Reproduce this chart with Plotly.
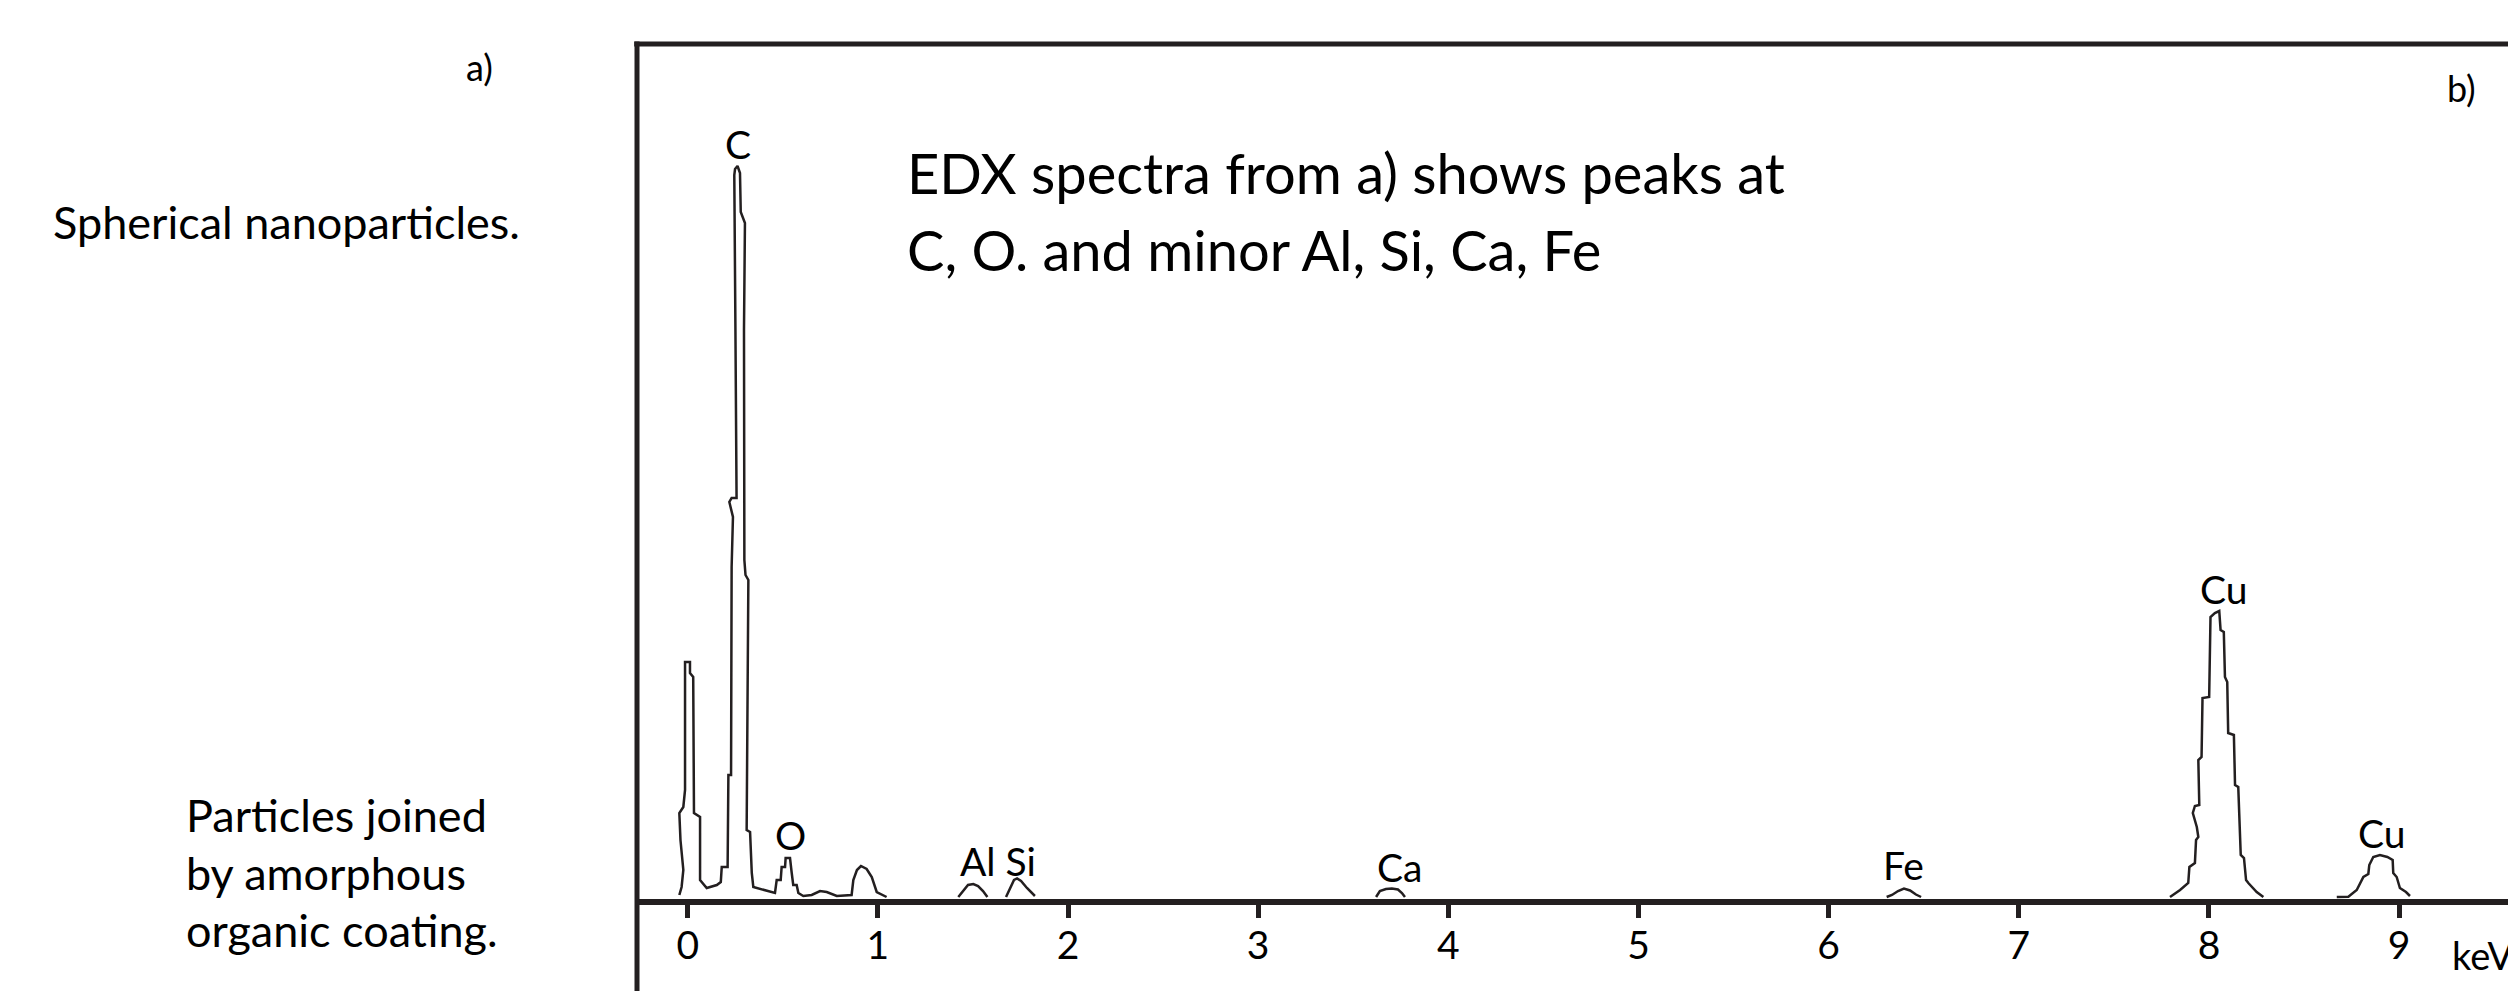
import plotly.graph_objects as go

# ---------------- data (energy in keV, intensity in arbitrary units) ----------------
low_keV = [-0.044, -0.032, -0.023, -0.038, -0.044, -0.023, -0.014, -0.014, 0.012, 0.012,
           0.029, 0.033, 0.065, 0.065, 0.100, 0.153, 0.174, 0.179, 0.210, 0.214,
           0.228, 0.231, 0.238, 0.219, 0.231, 0.257, 0.251, 0.245, 0.249, 0.262,
           0.275, 0.279, 0.301, 0.296, 0.298, 0.304, 0.319, 0.313, 0.310, 0.328,
           0.337, 0.345, 0.380, 0.459, 0.468, 0.489, 0.494, 0.512, 0.515, 0.538,
           0.547, 0.555, 0.573, 0.582, 0.608, 0.652, 0.696, 0.731, 0.784, 0.862,
           0.871, 0.890, 0.911, 0.941, 0.968, 0.994, 1.046]
low_int = [2, 10, 27, 57, 84, 90, 107, 235, 235, 224,
           220, 84, 80, 17, 9, 12, 15, 30, 30, 122,
           122, 330, 380, 395, 399, 399, 567, 722, 728, 731,
           724, 685, 674, 567, 337, 322, 317, 197, 67, 65,
           24, 10, 8, 4, 17, 17, 30, 30, 39, 39,
           24, 12, 12, 4, 1, 2, 6, 5, 1, 2,
           17, 27, 31, 28, 20, 5, 0]

al_keV = [1.423, 1.448, 1.474, 1.502, 1.527, 1.553, 1.576]
al_int = [0, 6, 12, 13, 11, 6, 0]

si_keV = [1.674, 1.695, 1.716, 1.732, 1.753, 1.784, 1.826]
si_int = [0, 9, 17, 18.5, 16, 9, 1]

ca_keV = [3.620, 3.640, 3.672, 3.703, 3.735, 3.756, 3.772]
ca_int = [0, 6, 8, 8.5, 7.5, 4, 0]

fe_keV = [6.305, 6.333, 6.365, 6.396, 6.428, 6.459, 6.486]
fe_int = [0, 2, 6, 8.5, 6.5, 2.5, 0]

cuka_keV = [7.795, 7.848, 7.891, 7.897, 7.926, 7.932, 7.944, 7.936, 7.915, 7.926,
            7.949, 7.944, 7.961, 7.966, 8.001, 8.008, 8.031, 8.040, 8.054, 8.061,
            8.078, 8.084, 8.096, 8.101, 8.131, 8.137, 8.154, 8.167, 8.184, 8.195,
            8.207, 8.251, 8.286]
cuka_int = [0, 7, 14, 30, 34, 57, 60, 70, 84, 91,
            92, 137, 140, 199, 200, 280, 284, 285, 286, 267,
            265, 220, 215, 164, 162, 112, 110, 42, 39, 17,
            14, 5, 0]

cukb_keV = [8.672, 8.733, 8.777, 8.812, 8.838, 8.843, 8.864, 8.899, 8.938, 8.966,
            8.969, 8.987, 9.004, 9.036, 9.057]
cukb_int = [0, 0.3, 7, 20, 23, 32, 40, 42, 40, 37,
            24, 20, 9, 5, 1]

tick_values = [0, 1, 2, 3, 4, 5, 6, 7, 8, 9]
tick_labels = ["0", "1", "2", "3", "4", "5", "6", "7", "8", "9"]

peak_names = ["C", "O", "Al Si", "Ca", "Fe", "Cu", "Cu"]
peak_label_keV = [0.267, 0.538, 1.633, 3.741, 6.391, 8.074, 8.907]
peak_label_int = [753, 62, 36, 30, 32, 308, 64]

# ---------------- build the figure ----------------
segments = [(low_keV, low_int), (al_keV, al_int), (si_keV, si_int), (ca_keV, ca_int),
            (fe_keV, fe_int), (cuka_keV, cuka_int), (cukb_keV, cukb_int)]
xs, ys = [], []
for sx, sy in segments:
    xs += list(sx) + [None]
    ys += list(sy) + [None]

INK = "#231f20"
FONT = "Lato"

fig = go.Figure()
fig.add_trace(go.Scatter(x=xs, y=ys, mode="lines", connectgaps=False,
                         line=dict(color=INK, width=2.5), hoverinfo="skip"))

W, H = 2508, 991
ML, MR, MT, MB = 637, 0, 44, 89

annotations = []
for name, kx, ky in zip(peak_names, peak_label_keV, peak_label_int):
    annotations.append(dict(x=kx, y=ky, xref="x", yref="y", text=name, showarrow=False,
                            xanchor="center", yanchor="middle",
                            font=dict(family=FONT, size=39, color="#000")))

def px2paper_x(px):
    return (px - ML) / (W - ML - MR)

def px2paper_y(py):
    return (H - MB - py) / (H - MT - MB)

texts = [
    ("EDX spectra from a) shows peaks at", 905, 172.5, "left", 56),
    ("C, O. and minor Al, Si, Ca, Fe", 905, 250, "left", 56),
    ("a)", 479, 67, "center", 36),
    ("b)", 2461, 88, "center", 36),
    ("Spherical nanoparticles.", 286.5, 222, "center", 45),
    ("Particles joined", 184, 815, "left", 45),
    ("by amorphous", 184, 873, "left", 45),
    ("organic coating.", 184, 930, "left", 45),
    ("keV", 2450, 955, "left", 38),
]
for t, px, py, anc, sz in texts:
    annotations.append(dict(x=px2paper_x(px), y=px2paper_y(py), xref="paper", yref="paper",
                            text=t, showarrow=False, xanchor=anc, yanchor="middle",
                            align="left",
                            font=dict(family=FONT, size=sz, color="#000")))

shapes = [
    # top frame line
    dict(type="line", xref="paper", yref="paper", x0=-0.0015, x1=1.0, y0=1, y1=1,
         line=dict(color=INK, width=5)),
    # left frame line (runs off the bottom)
    dict(type="line", xref="paper", yref="paper", x0=0, x1=0, y0=-0.2, y1=1.003,
         line=dict(color=INK, width=5)),
    # energy axis line
    dict(type="line", xref="paper", yref="paper", x0=0, x1=1.0, y0=0, y1=0,
         line=dict(color=INK, width=6)),
]

fig.update_layout(
    width=W, height=H,
    margin=dict(l=ML, r=MR, t=MT, b=MB, pad=0),
    paper_bgcolor="white", plot_bgcolor="white",
    showlegend=False,
    annotations=annotations,
    shapes=shapes,
    xaxis=dict(range=[(637 - 687.7) / 190.16, (2508 - 687.7) / 190.16],
               tickmode="array", tickvals=tick_values, ticktext=tick_labels,
               ticks="outside", ticklen=15, tickwidth=5, tickcolor=INK,
               ticklabelstandoff=-6,
               tickfont=dict(family=FONT, size=39, color="#000"),
               showgrid=False, zeroline=False, showline=False, fixedrange=True),
    yaxis=dict(range=[-5, 853], visible=False, showgrid=False, zeroline=False,
               fixedrange=True),
    hovermode=False,
)

fig.write_html("out.html")
